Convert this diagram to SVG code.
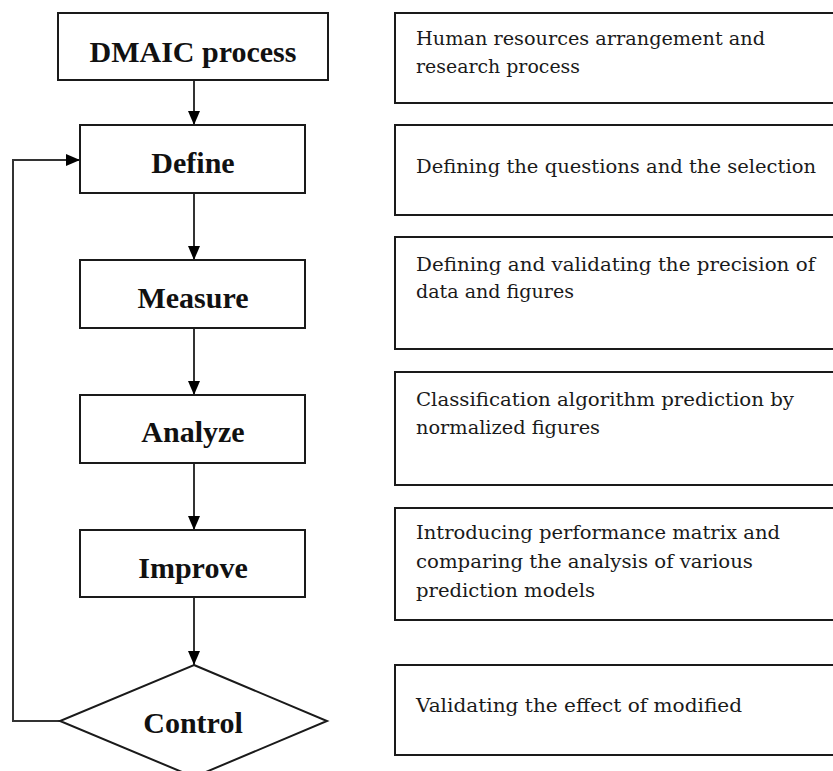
<svg xmlns="http://www.w3.org/2000/svg" width="833" height="771" viewBox="0 0 833 771">
  <style>
    .box { fill: #ffffff; stroke: #1a1a1a; stroke-width: 2; }
    .lbl { font-family: "Liberation Serif", "Times New Roman", serif; font-weight: bold; font-size: 30px; fill: #111; text-anchor: middle; }
    .desc { font-family: "DejaVu Serif", "Liberation Serif", serif; font-size: 19px; fill: #1a1a1a; }
    .conn { fill: none; stroke: #333333; stroke-width: 2; }
  </style>
  <defs>
    <marker id="arrow" markerUnits="userSpaceOnUse" markerWidth="14" markerHeight="12" refX="14" refY="6" orient="auto">
      <path d="M0,0 L14,6 L0,12 z" fill="#000"/>
    </marker>
  </defs>
  <rect width="833" height="771" fill="#ffffff"/>

  <g id="connectors">
    <line class="conn" x1="194" y1="80" x2="194" y2="125" marker-end="url(#arrow)"/>
    <line class="conn" x1="194" y1="193" x2="194" y2="260" marker-end="url(#arrow)"/>
    <line class="conn" x1="194" y1="328" x2="194" y2="395" marker-end="url(#arrow)"/>
    <line class="conn" x1="194" y1="463" x2="194" y2="530" marker-end="url(#arrow)"/>
    <line class="conn" x1="194" y1="597" x2="194" y2="665" marker-end="url(#arrow)"/>
    <polyline class="conn" points="60,721 13,721 13,160 80,160" marker-end="url(#arrow)"/>
  </g>

  <g id="dmaic">
    <rect class="box" x="58" y="13" width="270" height="67"/>
    <text class="lbl" x="193" y="62">DMAIC process</text>
  </g>
  <g id="define">
    <rect class="box" x="80" y="125" width="225" height="68"/>
    <text class="lbl" x="193" y="173">Define</text>
  </g>
  <g id="measure">
    <rect class="box" x="80" y="260" width="225" height="68"/>
    <text class="lbl" x="193" y="308">Measure</text>
  </g>
  <g id="analyze">
    <rect class="box" x="80" y="395" width="225" height="68"/>
    <text class="lbl" x="193" y="442">Analyze</text>
  </g>
  <g id="improve">
    <rect class="box" x="80" y="530" width="225" height="67"/>
    <text class="lbl" x="193" y="578">Improve</text>
  </g>
  <g id="control">
    <polygon class="box" points="194,665 327,721 194,777 60,721"/>
    <text class="lbl" x="193" y="733">Control</text>
  </g>

  <g id="desc-dmaic">
    <rect class="box" x="395" y="13" width="450" height="90"/>
    <text class="desc" x="416" y="45" textLength="349" lengthAdjust="spacingAndGlyphs">Human resources arrangement and</text>
    <text class="desc" x="416" y="73" textLength="164" lengthAdjust="spacingAndGlyphs">research process</text>
  </g>
  <g id="desc-define">
    <rect class="box" x="395" y="125" width="450" height="90"/>
    <text class="desc" x="416" y="173" textLength="400" lengthAdjust="spacingAndGlyphs">Defining the questions and the selection</text>
  </g>
  <g id="desc-measure">
    <rect class="box" x="395" y="237" width="450" height="112"/>
    <text class="desc" x="416" y="271" textLength="399" lengthAdjust="spacingAndGlyphs">Defining and validating the precision of</text>
    <text class="desc" x="416" y="298" textLength="158" lengthAdjust="spacingAndGlyphs">data and figures</text>
  </g>
  <g id="desc-analyze">
    <rect class="box" x="395" y="372" width="450" height="113"/>
    <text class="desc" x="416" y="406" textLength="378" lengthAdjust="spacingAndGlyphs">Classification algorithm prediction by</text>
    <text class="desc" x="416" y="434" textLength="184" lengthAdjust="spacingAndGlyphs">normalized figures</text>
  </g>
  <g id="desc-improve">
    <rect class="box" x="395" y="508" width="450" height="112"/>
    <text class="desc" x="416" y="539" textLength="364" lengthAdjust="spacingAndGlyphs">Introducing performance matrix and</text>
    <text class="desc" x="416" y="568" textLength="337" lengthAdjust="spacingAndGlyphs">comparing the analysis of various</text>
    <text class="desc" x="416" y="597" textLength="179" lengthAdjust="spacingAndGlyphs">prediction models</text>
  </g>
  <g id="desc-control">
    <rect class="box" x="395" y="665" width="450" height="90"/>
    <text class="desc" x="416" y="712" textLength="326" lengthAdjust="spacingAndGlyphs">Validating the effect of modified</text>
  </g>
</svg>
